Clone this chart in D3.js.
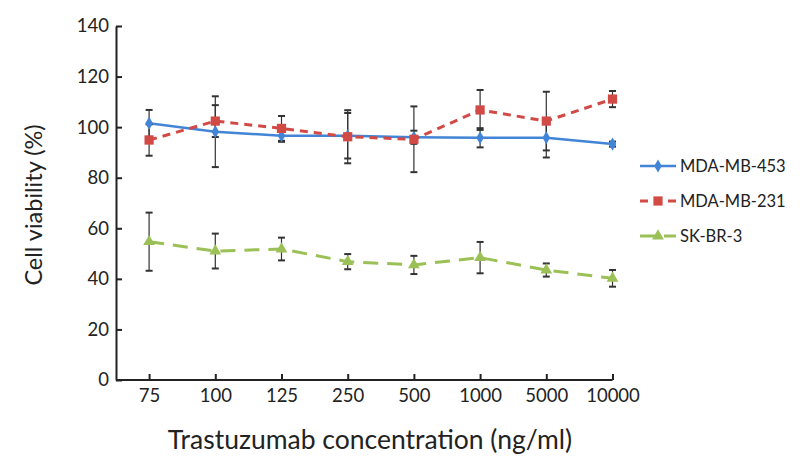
<!DOCTYPE html>
<html><head><meta charset="utf-8">
<script src="https://cdn.jsdelivr.net/npm/d3@7"></script>
<style>body{margin:0;background:#fff}svg{display:block}text{font-family:Lato,"Open Sans",sans-serif;fill:#222}</style>
</head><body><svg id="c" width="800" height="463"></svg>
<script>
const categories = ["75","100","125","250","500","1000","5000","10000"];
const yTicks = [0,20,40,60,80,100,120,140];
const seriesNames = ["MDA-MB-453","MDA-MB-231","SK-BR-3"];
const mda453 = [101.5,98.2,96.6,96.6,96.0,95.8,95.8,93.3];
const mda453Err = [5.3,14,2.4,9,2.6,3.8,7.8,1];
const mda231 = [94.9,102.4,99.5,96.2,95.2,106.8,102.4,111.1];
const mda231Err = [6.2,6.3,4.9,10.5,13,7.9,11.6,3.2];
const skbr3 = [54.7,51.0,51.8,46.8,45.5,48.4,43.5,40.2];
const skbr3Err = [11.5,6.9,4.5,3,3.6,6.2,2.6,3.3];

const colors = ["#4285d6","#d24a45","#9bc055"];
const dashes = [null,"8,6","15,9"];
const shapes = [d3.symbolDiamond, d3.symbolSquare, d3.symbolTriangle];
const sizes = [50, 85, 60];

const series = [
  {name:seriesNames[0], v:mda453, e:mda453Err},
  {name:seriesNames[1], v:mda231, e:mda231Err},
  {name:seriesNames[2], v:skbr3, e:skbr3Err}
];

const svg = d3.select("#c");
const pL=116, pR=645.6, pT=26, pB=380;
const x = d3.scaleBand().domain(categories).range([pL,pR]).padding(0);
const cx = c => x(c)+x.bandwidth()/2;
const y = d3.scaleLinear().domain([0,140]).range([pB,pT]);

// axes
const yAxis = d3.axisLeft(y).tickValues(yTicks).tickSizeInner(-6).tickSizeOuter(0).tickPadding(9);
const gy = svg.append("g").attr("transform",`translate(${pL},0)`).call(yAxis);
gy.select(".domain").attr("stroke","#222").attr("stroke-width",2);
gy.selectAll(".tick line").attr("stroke","#222").attr("stroke-width",2);
gy.selectAll(".tick text").style("font-size","18.5px").attr("fill","#222").attr("x",-7);

svg.append("line").attr("x1",pL).attr("x2",cx(categories[categories.length-1]))
  .attr("y1",pB).attr("y2",pB).attr("stroke","#222").attr("stroke-width",2);
const gx = svg.append("g").attr("transform",`translate(0,${pB})`)
  .call(d3.axisBottom(d3.scalePoint().domain(categories).range([cx(categories[0]),cx(categories[categories.length-1])])).tickSizeInner(-6).tickSizeOuter(0).tickPadding(9));
gx.select(".domain").remove();
gx.selectAll(".tick line").attr("stroke","#222").attr("stroke-width",2);
gx.selectAll(".tick text").style("font-size","18.5px").attr("fill","#222");

// titles
svg.append("text").attr("transform",`translate(33,${205}) rotate(-90)`)
  .attr("text-anchor","middle").attr("dominant-baseline","central").style("font-size","23.5px").text("Cell viability (%)");
svg.append("text").attr("x",370).attr("y",449).attr("text-anchor","middle")
  .style("font-size","26.5px").text("Trastuzumab concentration (ng/ml)");

// lines
const line = d3.line().x((d,i)=>cx(categories[i])).y(d=>y(d));
series.forEach((s,k)=>{
  svg.append("path").datum(s.v).attr("d",line).attr("fill","none")
    .attr("stroke",colors[k]).attr("stroke-width",k===0?2.5:3)
    .attr("stroke-dasharray",dashes[k]);
});
// error bars
series.forEach((s,k)=>{
  const g = svg.append("g").attr("stroke","#333").attr("stroke-width",1.2);
  s.v.forEach((v,i)=>{
    const xx = cx(categories[i]);
    const y1 = y(v+s.e[i]), y2 = y(v-s.e[i]);
    g.append("line").attr("x1",xx).attr("x2",xx).attr("y1",y1).attr("y2",y2);
    g.append("line").attr("x1",xx-3.5).attr("x2",xx+3.5).attr("y1",y1).attr("y2",y1).attr("stroke-width",2);
    g.append("line").attr("x1",xx-3.5).attr("x2",xx+3.5).attr("y1",y2).attr("y2",y2).attr("stroke-width",2);
  });
});
// markers
series.forEach((s,k)=>{
  svg.append("g").selectAll("path").data(s.v).join("path")
    .attr("transform",(d,i)=>`translate(${cx(categories[i])},${y(d)})`)
    .attr("d",d3.symbol().type(shapes[k]).size(sizes[k])).attr("fill",colors[k]);
});

// legend
const legY = [166,201,236];
series.forEach((s,k)=>{
  const g = svg.append("g").attr("transform",`translate(640,${legY[k]})`);
  g.append("line").attr("x1",0).attr("x2",36).attr("y1",0).attr("y2",0)
    .attr("stroke",colors[k]).attr("stroke-width",k===0?2.5:3)
    .attr("stroke-dasharray",k===1?"8,6":(k===2?"15,9":null));
  g.append("path").attr("transform","translate(18,0)").attr("d",d3.symbol().type(shapes[k]).size(sizes[k])).attr("fill",colors[k]);
  g.append("text").attr("x",40).attr("y",0).attr("dominant-baseline","central").style("font-size","16.5px").text(s.name);
});
</script></body></html>
